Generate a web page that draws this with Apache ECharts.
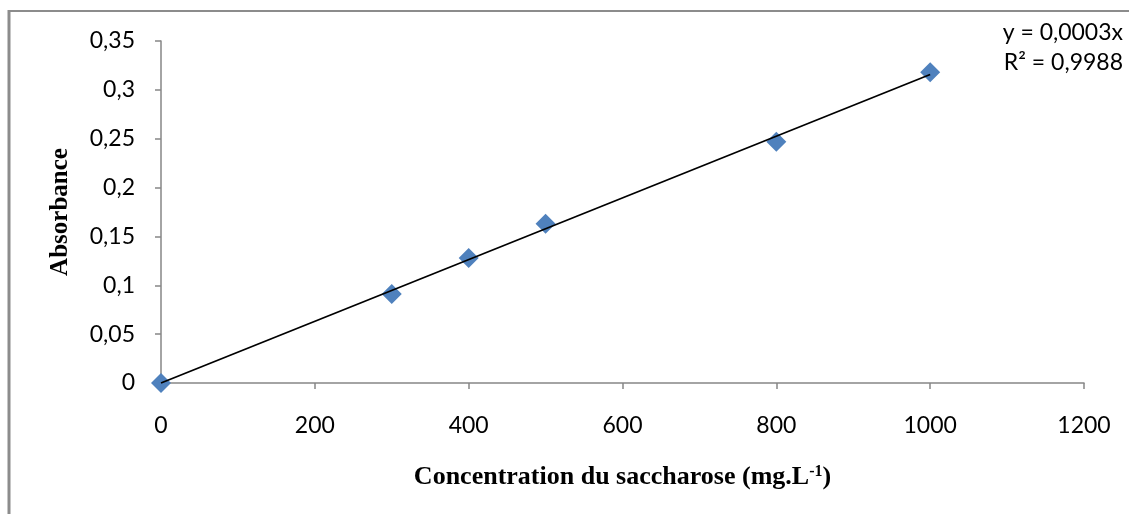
<!DOCTYPE html>
<html>
<head>
<meta charset="utf-8">
<script src="https://cdn.jsdelivr.net/npm/echarts@6/dist/echarts.min.js"></script>
<style>
    html, body { margin: 0; padding: 0; background: #fff; }
    #chart { width: 1129px; height: 514px; }
</style>
</head>
<body>
<div id="chart"></div>
<script>
let concentration = [0, 300, 400, 500, 800, 1000]
let absorbance = [0, 0.091, 0.128, 0.163, 0.247, 0.318]

// droite de tendance (début et fin)
let trendX = [0, 1000]
let trendY = [0, 0.3157]

let equationLines = ['y = 0,0003x', 'R² = 0,9988']

let axisGrey = '#868686'
let fr = v => String(Math.round(v * 100) / 100).replace('.', ',')

let chart = echarts.init(document.getElementById('chart'))

chart.setOption({
    animation: false,
    grid: { left: 161, right: 45, top: 41, bottom: 131 },
    xAxis: {
        type: 'value',
        min: 0,
        max: 1200,
        interval: 200,
        splitLine: { show: false },
        axisLine: { onZero: false, lineStyle: { color: axisGrey, width: 1.5 } },
        axisTick: { inside: false, length: 6, lineStyle: { color: axisGrey, width: 1.5 } },
        axisLabel: { margin: 31, color: '#000', fontFamily: 'Lato', fontSize: 23, formatter: v => String(v) },
        name: '{t|Concentration du saccharose (mg.L}{s|-1}{t|)}',
        nameLocation: 'middle',
        nameGap: 81,
        nameTextStyle: {
            rich: {
                t: { fontFamily: 'Liberation Serif', fontWeight: 'bold', fontSize: 26, color: '#000' },
                s: { fontFamily: 'Liberation Serif', fontWeight: 'bold', fontSize: 16, color: '#000', verticalAlign: 'top', padding: [0, 0, 11, 0] }
            }
        }
    },
    yAxis: {
        type: 'value',
        min: 0,
        max: 0.35,
        interval: 0.05,
        splitLine: { show: false },
        axisLine: { show: true, onZero: false, lineStyle: { color: axisGrey, width: 1.5 } },
        axisTick: { show: true, inside: false, length: 6, lineStyle: { color: axisGrey, width: 1.5 } },
        axisLabel: { margin: 26, color: '#000', fontFamily: 'Lato', fontSize: 23, formatter: fr },
        name: 'Absorbance',
        nameLocation: 'middle',
        nameRotate: 90,
        nameGap: 88,
        nameTextStyle: { fontFamily: 'Liberation Serif', fontWeight: 'bold', fontSize: 25, color: '#000' }
    },
    series: [
        {
            type: 'scatter',
            symbol: 'diamond',
            symbolSize: 20,
            itemStyle: { color: '#4F81BD', opacity: 1 },
            data: concentration.map((x, i) => [x, absorbance[i]]),
            z: 2
        },
        {
            type: 'line',
            showSymbol: false,
            symbol: 'none',
            lineStyle: { color: '#000', width: 1.8 },
            data: trendX.map((x, i) => [x, trendY[i]]),
            z: 3
        }
    ],
    graphic: [
        // cadre du graphique
        { type: 'line', shape: { x1: 9, y1: 10, x2: 9, y2: 514 }, style: { stroke: '#8c8c8c', lineWidth: 3 } },
        { type: 'line', shape: { x1: 8, y1: 11, x2: 1129, y2: 11 }, style: { stroke: '#8c8c8c', lineWidth: 2 } },
        // équation de la droite
        {
            type: 'text',
            style: { x: 1123, y: 33, text: equationLines[0], textAlign: 'right', textVerticalAlign: 'middle', fontFamily: 'Lato', fontSize: 23, fill: '#000' }
        },
        {
            type: 'text',
            style: { x: 1123, y: 63, text: equationLines[1], textAlign: 'right', textVerticalAlign: 'middle', fontFamily: 'Lato', fontSize: 23, fill: '#000' }
        }
    ]
})
</script>
</body>
</html>
